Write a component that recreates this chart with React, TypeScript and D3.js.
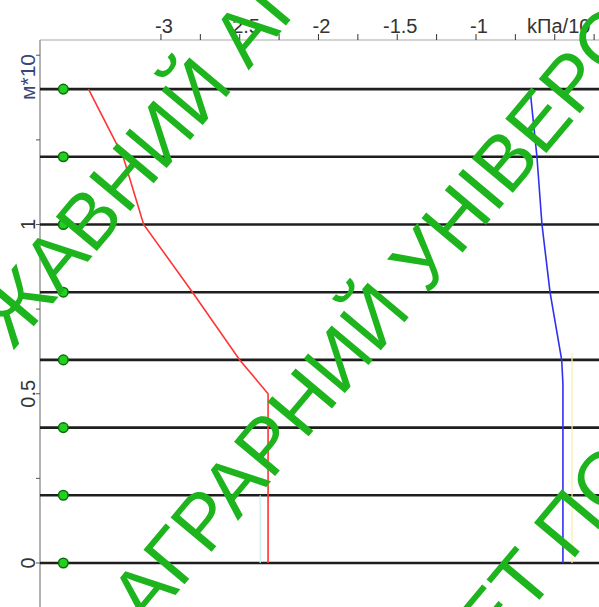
import React from 'react';
import * as d3 from 'd3';

// ---- data ----
const layerDepths = [0, 0.2, 0.4, 0.6, 0.8, 1.0, 1.2, 1.4];
const markerValue = -3.62;
const redDepth = [1.4, 1.2, 1.0, 0.8, 0.6, 0.5, 0.4, 0.2, 0];
const redValue = [-3.46, -3.24, -3.11, -2.8, -2.5, -2.32, -2.32, -2.32, -2.32];
const blueDepth = [1.4, 1.2, 1.0, 0.8, 0.6, 0.53, 0];
const blueValue = [-0.657, -0.613, -0.581, -0.53, -0.456, -0.448, -0.448];
const cyanDepth = [0.2, 0];
const cyanValue = [-2.37, -2.37];
const yellowDepth = [0.62, 0];
const yellowValue = [-0.39, -0.39];
const xTickValues = [-3, -2.75, -2.5, -2.25, -2, -1.75, -1.5, -1.25, -1, -0.75, -0.5, -0.25];
const xLabelValues = [-3, -2.5, -2, -1.5, -1];
const xLabels = ['-3', '-2.5', '-2', '-1.5', '-1'];
const xUnitValue = -0.5;
const xUnit = 'kПa/10';
const yTickValues = [0, 0.25, 0.5, 0.75, 1, 1.25, 1.5];
const yLabelValues = [0, 0.5, 1];
const yLabels = ['0', '0.5', '1'];
const yUnit = 'м*10';
const watermarkLines = ['ЖАВНИЙ АГРАРНИЙ', 'АГРАРНИЙ УНІВЕРСИТЕТ', 'ЕТ ПОЛТАВСЬКИЙ'];

const W = 599;
const H = 607;

export default function App() {
  const x = d3.scaleLinear().domain([-3.768, -0.219]).range([40, 599]);
  const y = d3.scaleLinear().domain([0, 1.545]).range([563, 40]);
  const line = d3
    .line<[number, number]>()
    .x((d) => x(d[1]))
    .y((d) => y(d[0]));
  const zip = (a: number[], b: number[]) => a.map((v, i) => [v, b[i]] as [number, number]);

  const font = "'Liberation Sans', Arial, sans-serif";
  const wmPos = [
    { x: 13, y: 351 },
    { x: 147, y: 629 },
    { x: 493, y: 655 },
  ];

  return (
    <svg
      width={W}
      height={H}
      style={{ position: 'absolute', left: 0, top: 0, background: '#fff' }}
      fontFamily={font}
    >
      <rect x={0} y={0} width={W} height={H} fill="#fff" />
      {/* axes */}
      <line x1={40} x2={W} y1={40} y2={40} stroke="#c4c4c4" strokeWidth={1.6} />
      <line x1={40} x2={40} y1={40} y2={H} stroke="#9a9a9a" strokeWidth={1.5} />
      {xTickValues.map((v) => (
        <line key={'xt' + v} x1={x(v)} x2={x(v)} y1={34} y2={40} stroke="#333" strokeWidth={1} />
      ))}
      {xLabelValues.map((v, i) => (
        <text key={'xl' + v} x={x(v) + 3} y={33} textAnchor="middle" fontSize={20} fill="#333">
          {xLabels[i]}
        </text>
      ))}
      <text x={x(xUnitValue) + 4} y={33} textAnchor="middle" fontSize={20} fill="#333">
        {xUnit}
      </text>
      {yTickValues.map((v) => (
        <line key={'yt' + v} x1={36} x2={40} y1={y(v)} y2={y(v)} stroke="#555" strokeWidth={1} />
      ))}
      {yLabelValues.map((v, i) => (
        <text
          key={'yl' + v}
          transform={`translate(28,${y(v)}) rotate(-90)`}
          textAnchor="middle"
          dy="0.35em"
          fontSize={20}
          fill="#333"
        >
          {yLabels[i]}
        </text>
      ))}
      <text transform={`translate(28,77) rotate(-90)`} textAnchor="middle" dy="0.35em" fontSize={21} fill="#3a4676">
        {yUnit}
      </text>

      {/* layer lines */}
      {layerDepths.map((d) => (
        <line key={'ll' + d} x1={40} x2={W} y1={y(d)} y2={y(d)} stroke="#1e1e1e" strokeWidth={2.6} />
      ))}

      {/* curves */}
      <path d={line(zip(cyanDepth, cyanValue)) || ''} fill="none" stroke="#bff2f2" strokeWidth={1.2} />
      <path d={line(zip(yellowDepth, yellowValue)) || ''} fill="none" stroke="#f5f0b0" strokeWidth={1.2} />
      <path d={line(zip(redDepth, redValue)) || ''} fill="none" stroke="#ff3535" strokeWidth={1.6} />
      <path d={line(zip(blueDepth, blueValue)) || ''} fill="none" stroke="#3030f0" strokeWidth={1.6} />

      {/* markers */}
      {layerDepths.map((d) => (
        <circle key={'m' + d} cx={x(markerValue)} cy={y(d)} r={4.8} fill="#22d022" stroke="#0b6e0b" strokeWidth={1.5} />
      ))}

      {/* watermark */}
      {watermarkLines.map((t, i) => (
        <text
          key={'wm' + i}
          transform={`translate(${wmPos[i].x},${wmPos[i].y}) rotate(-50)`}
          fontSize={78}
          fill="#1db41d"
        >
          {t}
        </text>
      ))}
    </svg>
  );
}
